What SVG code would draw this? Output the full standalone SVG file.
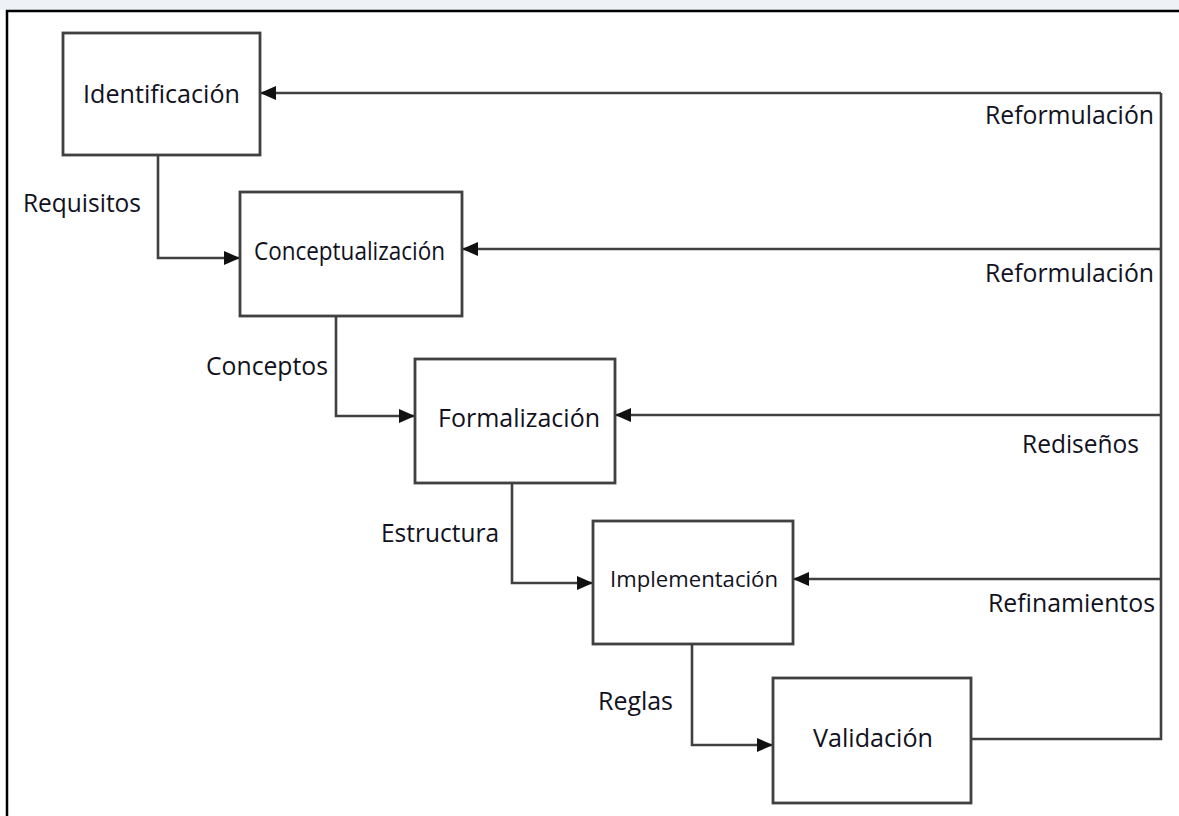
<svg xmlns="http://www.w3.org/2000/svg" width="1179" height="816" viewBox="0 0 1179 816">
<style>
.box{fill:#fff;stroke:#404040;stroke-width:2.8}
.ln{fill:none;stroke:#404040;stroke-width:2.6}
.t{font-family:"Open Sans","Noto Sans",sans-serif;font-size:25px;fill:#111122}
</style>
<defs>
<marker id="ah" markerWidth="16" markerHeight="14" refX="15" refY="7" orient="auto" markerUnits="userSpaceOnUse">
<path d="M0,0 L16,7 L0,14 z" fill="#111"/>
</marker>
</defs>
<rect x="0" y="0" width="1179" height="816" fill="#fff"/>
<rect x="0" y="0" width="1179" height="10" fill="#eef2f6"/>
<path d="M7,816 V11 H1179" fill="none" stroke="#000" stroke-width="2.5"/>

<g id="connectors">
<path class="ln" d="M158,155 V258 H239" marker-end="url(#ah)"/>
<path class="ln" d="M336,316 V416 H414" marker-end="url(#ah)"/>
<path class="ln" d="M512,483 V583 H592" marker-end="url(#ah)"/>
<path class="ln" d="M692,644 V745 H772" marker-end="url(#ah)"/>
<path class="ln" d="M971,739 H1161 V93"/>
<path class="ln" d="M1161,93 H261" marker-end="url(#ah)"/>
<path class="ln" d="M1161,249 H463" marker-end="url(#ah)"/>
<path class="ln" d="M1161,415 H616" marker-end="url(#ah)"/>
<path class="ln" d="M1161,579 H794" marker-end="url(#ah)"/>
<text class="t" x="23" y="212" textLength="118" lengthAdjust="spacingAndGlyphs">Requisitos</text>
<text class="t" x="206" y="375" textLength="122" lengthAdjust="spacingAndGlyphs">Conceptos</text>
<text class="t" x="381" y="542" textLength="118" lengthAdjust="spacingAndGlyphs">Estructura</text>
<text class="t" x="598" y="710" textLength="75" lengthAdjust="spacingAndGlyphs">Reglas</text>
<text class="t" x="985" y="124" textLength="169" lengthAdjust="spacingAndGlyphs">Reformulación</text>
<text class="t" x="985" y="282" textLength="169" lengthAdjust="spacingAndGlyphs">Reformulación</text>
<text class="t" x="1022" y="453" textLength="117" lengthAdjust="spacingAndGlyphs">Rediseños</text>
<text class="t" x="988" y="612" textLength="167" lengthAdjust="spacingAndGlyphs">Refinamientos</text>
</g>

<g id="identificacion">
<rect class="box" x="63" y="33" width="197" height="122"/>
<text class="t" x="83" y="103" textLength="157" lengthAdjust="spacingAndGlyphs">Identificación</text>
</g>
<g id="conceptualizacion">
<rect class="box" x="240" y="192" width="222" height="124"/>
<text class="t" x="254" y="260" textLength="191" lengthAdjust="spacingAndGlyphs">Conceptualización</text>
</g>
<g id="formalizacion">
<rect class="box" x="415" y="359" width="200" height="124"/>
<text class="t" x="438" y="427" textLength="162" lengthAdjust="spacingAndGlyphs">Formalización</text>
</g>
<g id="implementacion">
<rect class="box" x="593" y="521" width="200" height="123"/>
<text class="t" x="610" y="587" style="font-size:21px" textLength="168" lengthAdjust="spacingAndGlyphs">Implementación</text>
</g>
<g id="validacion">
<rect class="box" x="773" y="678" width="198" height="125"/>
<text class="t" x="813" y="747" textLength="120" lengthAdjust="spacingAndGlyphs">Validación</text>
</g>
</svg>
